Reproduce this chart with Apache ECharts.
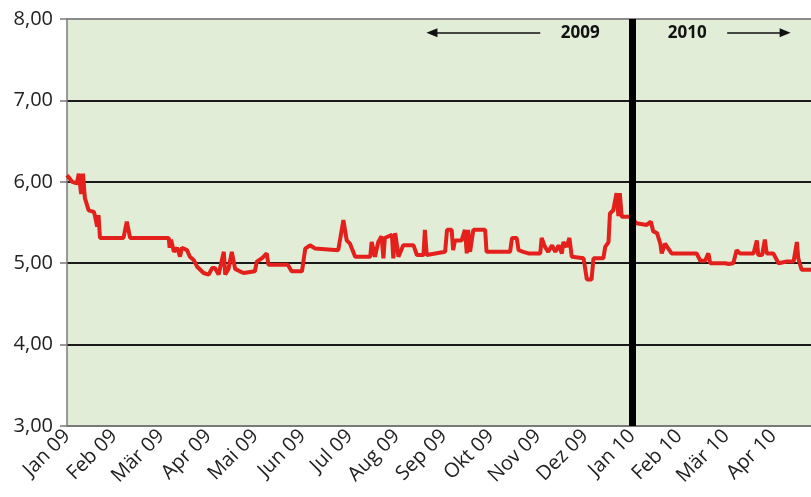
<!DOCTYPE html>
<html>
<head>
<meta charset="utf-8">
<script src="https://cdn.jsdelivr.net/npm/echarts@6/dist/echarts.min.js"></script>
<style>
  html, body { margin: 0; padding: 0; background: #fff; }
  #chart { width: 811px; height: 497px; }
</style>
</head>
<body>
<div id="chart"></div>
<script>
// Monatsbeschriftung (x = Monatsindex, 0 = Jan 09)
var monthLabels = ['Jan 09', 'Feb 09', 'Mär 09', 'Apr 09', 'Mai 09', 'Jun 09', 'Jul 09', 'Aug 09',
  'Sep 09', 'Okt 09', 'Nov 09', 'Dez 09', 'Jan 10', 'Feb 10', 'Mär 10', 'Apr 10'];

// Position im Zeitverlauf (in Monaten ab Jan 09)
var monthPos = [0.00, 0.11, 0.21, 0.25, 0.30, 0.34, 0.38, 0.42, 0.46, 0.57, 0.59, 0.64, 0.67, 0.70,
  1.20, 1.27, 1.34, 2.16, 2.18, 2.21, 2.27, 2.34, 2.40, 2.44, 2.55, 2.61, 2.69, 2.76, 2.90, 3.01,
  3.08, 3.14, 3.22, 3.33, 3.36, 3.43, 3.50, 3.57, 3.67, 3.75, 3.99, 4.03, 4.14, 4.24, 4.28, 4.69,
  4.77, 4.99, 5.06, 5.16, 5.27, 5.76, 5.87, 5.94, 6.01, 6.12, 6.44, 6.47, 6.54, 6.61, 6.68, 6.72,
  6.75, 6.90, 6.93, 6.97, 7.04, 7.14, 7.36, 7.43, 7.57, 7.60, 7.64, 8.03, 8.07, 8.17, 8.20, 8.24,
  8.38, 8.45, 8.49, 8.52, 8.56, 8.63, 8.88, 8.91, 9.41, 9.45, 9.55, 9.59, 9.69, 9.80, 10.05, 10.08,
  10.15, 10.22, 10.30, 10.37, 10.44, 10.51, 10.54, 10.61, 10.67, 10.72, 10.97, 11.04, 11.14, 11.18,
  11.39, 11.43, 11.50, 11.53, 11.60, 11.67, 11.71, 11.74, 11.78, 11.96, 12.10, 12.31, 12.40, 12.45,
  12.53, 12.60, 12.63, 12.70, 12.77, 12.84, 13.37, 13.45, 13.55, 13.62, 13.66, 13.98, 14.05, 14.15,
  14.22, 14.29, 14.58, 14.65, 14.68, 14.76, 14.82, 14.86, 15.00, 15.11, 15.29, 15.43, 15.50, 15.53,
  15.60, 15.80];

// Zinssatz in %
var rate = [6.08, 6.00, 5.98, 6.10, 5.85, 6.10, 5.80, 5.81, 5.65, 5.63, 5.59, 5.45, 5.59, 5.31,
  5.31, 5.51, 5.31, 5.31, 5.19, 5.29, 5.14, 5.19, 5.08, 5.19, 5.16, 5.08, 5.04, 4.96, 4.88, 4.86,
  4.94, 4.94, 4.86, 5.14, 4.86, 4.93, 5.14, 4.93, 4.90, 4.88, 4.90, 5.02, 5.06, 5.12, 4.98, 4.98,
  4.90, 4.90, 5.18, 5.22, 5.18, 5.16, 5.53, 5.28, 5.24, 5.08, 5.08, 5.26, 5.08, 5.26, 5.33, 5.06,
  5.31, 5.35, 5.06, 5.37, 5.08, 5.22, 5.22, 5.10, 5.10, 5.41, 5.10, 5.14, 5.41, 5.41, 5.16, 5.28,
  5.28, 5.41, 5.12, 5.41, 5.14, 5.41, 5.41, 5.14, 5.14, 5.31, 5.31, 5.16, 5.14, 5.12, 5.12, 5.31,
  5.20, 5.14, 5.22, 5.14, 5.22, 5.12, 5.26, 5.20, 5.31, 5.08, 5.06, 4.80, 4.80, 5.06,
  5.06, 5.20, 5.26, 5.61, 5.65, 5.86, 5.58, 5.86, 5.57, 5.57, 5.49, 5.47, 5.51, 5.39,
  5.37, 5.24, 5.12, 5.24, 5.18, 5.12, 5.12, 5.03, 5.03, 5.12, 5.00, 5.00, 4.99, 5.00,
  5.16, 5.12, 5.12, 5.28, 5.10, 5.10, 5.29, 5.12, 5.12, 5.00, 5.02, 5.02, 5.26, 5.06,
  4.92, 4.92];

var yTicks = [3, 4, 5, 6, 7, 8];
var yearBreak = 12;   // Jan 10
var yearLabels = ['2009', '2010'];

var chart = echarts.init(document.getElementById('chart'));

var lineData = monthPos.map(function (m, i) { return [m, rate[i]]; });

var option = {
  backgroundColor: '#ffffff',
  textStyle: { fontFamily: 'Open Sans' },
  animation: false,
  grid: {
    left: 67, top: 19, right: 0, bottom: 71,
    show: true, backgroundColor: '#e2edd8', borderWidth: 0
  },
  xAxis: {
    type: 'value',
    min: 0, max: 15.8, interval: 1,
    axisLine: { show: true, lineStyle: { color: '#7a7a7a', width: 1.5 } },
    axisTick: { show: false },
    splitLine: { show: false },
    axisLabel: {
      rotate: 45, margin: 7,
      fontSize: 20, color: '#222',
      showMaxLabel: false,
      formatter: function (v) {
        return Number.isInteger(v) && monthLabels[v] ? monthLabels[v] : '';
      }
    }
  },
  yAxis: {
    type: 'value',
    min: yTicks[0], max: yTicks[yTicks.length - 1], interval: 1,
    axisLine: { show: true, lineStyle: { color: '#7a7a7a', width: 1.5 } },
    axisTick: { show: true, inside: false, length: 7, lineStyle: { color: '#7a7a7a', width: 1.5 } },
    axisLabel: {
      margin: 14, fontSize: 20, color: '#222',
      formatter: function (v) { return v.toFixed(2).replace('.', ','); }
    },
    splitLine: {
      show: true,
      lineStyle: { color: ['#7a7a7a', '#1a1a1a', '#1a1a1a', '#1a1a1a', '#1a1a1a', '#8a8a8a'], width: 2 }
    }
  },
  series: [{
    type: 'line',
    data: lineData,
    showSymbol: false,
    lineStyle: { color: '#e3201b', width: 4 },
    z: 3,
    markLine: {
      silent: true,
      symbol: 'none',
      label: { show: false },
      data: [
        { xAxis: yearBreak, lineStyle: { color: '#000', width: 7, type: 'solid' } },
        [
          { coord: [10.05, 7.83], symbol: 'none', lineStyle: { color: '#111', width: 1.5, type: 'solid' } },
          { coord: [7.75, 7.83], symbol: 'triangle', symbolSize: [9, 11], symbolRotate: 90 }
        ],
        [
          { coord: [14.02, 7.83], symbol: 'none', lineStyle: { color: '#111', width: 1.5, type: 'solid' } },
          { coord: [15.25, 7.83], symbol: 'triangle', symbolSize: [9, 11], symbolRotate: -90 }
        ]
      ]
    },
    markPoint: {
      silent: true,
      symbol: 'circle',
      symbolSize: 0,
      label: {
        show: true, position: 'inside',
        fontSize: 17, fontWeight: 'bold', color: '#111',
        formatter: function (p) { return p.name; }
      },
      data: [
        { name: yearLabels[0], coord: [10.9, 7.83] },
        { name: yearLabels[1], coord: [13.17, 7.83] }
      ]
    }
  }]
};

chart.setOption(option);
</script>
</body>
</html>
